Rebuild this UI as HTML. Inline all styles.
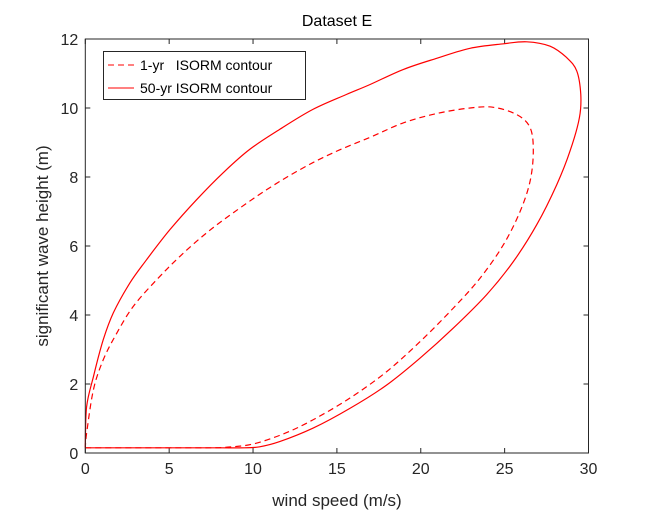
<!DOCTYPE html>
<html><head><meta charset="utf-8"><style>
body{margin:0;background:#fff;}
svg{display:block;font-family:"Liberation Sans",Arial,sans-serif;}
</style></head><body>
<svg id="chart" width="651" height="513">
<rect width="651" height="513" fill="#fff"/>
<text x="337" y="26" text-anchor="middle" font-size="16" fill="#000">Dataset E</text>
<g id="ticks"></g>
<g id="series"></g>
<rect x="85.3" y="39" width="503.2" height="414" fill="none" stroke="#262626" stroke-width="1"/>
<text x="337" y="506" text-anchor="middle" font-size="17" fill="#262626">wind speed (m/s)</text>
<text transform="translate(48,246) rotate(-90)" text-anchor="middle" font-size="17" fill="#262626">significant wave height (m)</text>
<g>
<rect x="103.5" y="51.5" width="202" height="48" fill="#fff" stroke="#262626" stroke-width="1"/>
<line x1="108" y1="65" x2="134" y2="65" stroke="#f00" stroke-width="1" stroke-dasharray="6,4"/>
<text x="140" y="70" font-size="14" fill="#000" xml:space="preserve">1-yr   ISORM contour</text>
<line x1="108" y1="88" x2="134" y2="88" stroke="#f00" stroke-width="1"/>
<text x="140" y="93" font-size="14" fill="#000">50-yr ISORM contour</text>
</g>
</svg>
<script>
const xTicks=[0,5,10,15,20,25,30];
const yTicks=[0,2,4,6,8,10,12];
const solidX=[0,3,6,8,9.5,10.4,11.59,13.57,15.8,17.97,19.96,21.94,23.93,25.52,26.92,28.11,28.9,29.46,29.54,29.3,28.7,27.71,26.32,24.93,22.94,20.95,18.97,16.98,15.56,13.57,11.59,9.8,8.21,6.63,5.04,3.65,2.66,1.67,1.07,0.48,0.08,0];
const solidY=[0.15,0.15,0.15,0.15,0.15,0.18,0.33,0.72,1.3,1.97,2.75,3.62,4.59,5.55,6.62,7.78,8.75,9.72,10.39,11.07,11.46,11.79,11.92,11.86,11.73,11.44,11.12,10.68,10.39,9.96,9.38,8.8,8.12,7.34,6.47,5.6,4.93,4.06,3.28,2.21,1.34,0.15];
const dashX=[0,3,5.5,7.5,8.5,10,11.8,13.57,15.8,17.97,19.96,21.94,23.54,24.93,25.92,26.52,26.71,26.52,25.72,24.33,22.94,20.95,18.97,16.98,14.76,12.78,10.8,8.81,7.23,5.64,4.25,2.86,1.87,1.07,0.48,0.08,0];
const dashY=[0.15,0.15,0.15,0.15,0.17,0.26,0.55,0.96,1.6,2.36,3.23,4.2,5.07,6.04,7.0,7.88,8.75,9.43,9.81,10.02,10.0,9.84,9.57,9.15,8.7,8.21,7.63,6.96,6.38,5.7,5.02,4.25,3.47,2.7,1.83,0.57,0.15];
const X0=85.3,X1=588.5,Y0=453,Y1=39;
function sx(v){return X0+(v-0)/(30-0)*(X1-X0);}
function sy(v){return Y0-(v-0)/(12-0)*(Y0-Y1);}
const NS="http://www.w3.org/2000/svg";
const tg=document.getElementById('ticks');
xTicks.forEach(t=>{
  const x=sx(t);
  [[Y0,Y0-5],[Y1,Y1+5]].forEach(p=>{const l=document.createElementNS(NS,'line');
    l.setAttribute('x1',x);l.setAttribute('x2',x);l.setAttribute('y1',p[0]);l.setAttribute('y2',p[1]);
    l.setAttribute('stroke','#262626');
    
    
    tg.appendChild(l);});
  const tx=document.createElementNS(NS,'text');
  tx.setAttribute('x',x);tx.setAttribute('y',Y0+21);tx.setAttribute('text-anchor','middle');
  tx.setAttribute('font-size','16');tx.setAttribute('fill','#262626');tx.textContent=t;
  
  
  tg.appendChild(tx);
});
yTicks.forEach(t=>{
  const y=sy(t);
  [[X0,X0+5],[X1,X1-5]].forEach(p=>{const l=document.createElementNS(NS,'line');
    l.setAttribute('x1',p[0]);l.setAttribute('x2',p[1]);l.setAttribute('y1',y);l.setAttribute('y2',y);
    l.setAttribute('stroke','#262626');
    
    
    tg.appendChild(l);});
  const tx=document.createElementNS(NS,'text');
  tx.setAttribute('x',X0-7);tx.setAttribute('y',y+6);tx.setAttribute('text-anchor','end');
  tx.setAttribute('font-size','16');tx.setAttribute('fill','#262626');tx.textContent=t;
  
  
  tg.appendChild(tx);
});
const sg=document.getElementById('series');
function draw(xs,ys,dash,name){
  const P=xs.map((v,i)=>[sx(v),sy(ys[i])]);
  let d='M'+P[0][0].toFixed(1)+','+P[0][1].toFixed(1);
  for(let i=0;i<P.length-1;i++){
    const p0=P[Math.max(i-1,0)],p1=P[i],p2=P[i+1],p3=P[Math.min(i+2,P.length-1)];
    const c1=[p1[0]+(p2[0]-p0[0])/6,p1[1]+(p2[1]-p0[1])/6];
    const c2=[p2[0]-(p3[0]-p1[0])/6,p2[1]-(p3[1]-p1[1])/6];
    d+=' C'+c1[0].toFixed(1)+','+c1[1].toFixed(1)+' '+c2[0].toFixed(1)+','+c2[1].toFixed(1)+' '+p2[0].toFixed(1)+','+p2[1].toFixed(1);
  }
  const p=document.createElementNS(NS,'path');
  p.setAttribute('d',d);p.setAttribute('fill','none');p.setAttribute('stroke','#f00');
  p.setAttribute('stroke-width','1.2');p.setAttribute('stroke-linejoin','round');
  if(dash)p.setAttribute('stroke-dasharray','6,4');
  
  
  sg.appendChild(p);
}
draw(dashX,dashY,true,'contour-1yr');
draw(solidX,solidY,false,'contour-50yr');
</script>
</body></html>
